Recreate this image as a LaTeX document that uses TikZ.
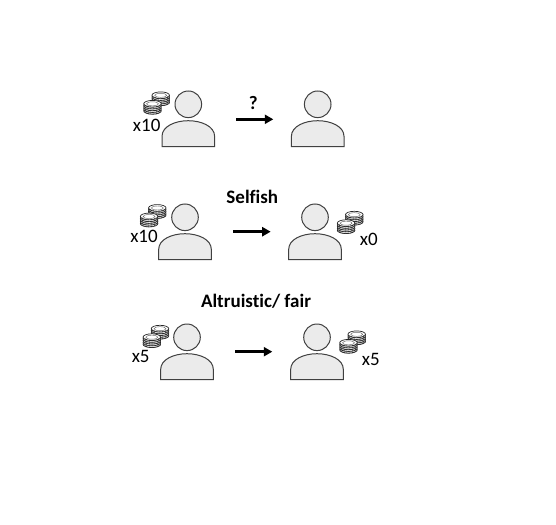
\documentclass[tikz,border=0pt]{standalone}
\usepackage{fontspec}
\setmainfont[RawFeature={-liga;-clig}]{Carlito}
\usetikzlibrary{arrows.meta}
\tikzset{
  x=1pt,y=-1pt,
  personshape/.style={draw=black!75,fill=black!8,line width=1pt},
  coinshape/.style={draw=black!85,fill=white,line width=0.7pt},
  flow/.style={-{Triangle[length=8.5pt,width=9pt]},line width=2.6pt,black},
  amount/.style={font=\fontsize{19}{21}\selectfont,inner sep=0pt,text=black},
  heading/.style={font=\fontsize{19}{21}\selectfont\bfseries,inner sep=0pt,text=black},
  person/.pic={
    \draw[personshape] (0,0) circle[radius=13.3];
    \draw[personshape] (-26.3,42.4) -- (-26.3,32)
      .. controls (-26.3,22) and (-13,16.4) .. (0,16.4)
      .. controls (13,16.4) and (26.3,22) .. (26.3,32) -- (26.3,42.4) -- cycle;
  },
  coinstack/.pic={
    \foreach \d in {7,5.25,3.5,1.75,0}{
      \draw[coinshape] (0,\d) ellipse[x radius=8.8,y radius=3.4];
      \draw[black!80,line width=0.9pt,dash pattern=on 0.8pt off 0.8pt]
        (-8.6,\d+0.8) .. controls (-4,\d+4.2) and (4,\d+4.2) .. (8.6,\d+0.8);
    }
    \draw[black!60,line width=0.45pt] (0,0) ellipse[x radius=6,y radius=2];
  },
  coinpile/.pic={
    \pic at (0,-3) {coinstack};
    \pic at (-8.2,5.5) {coinstack};
  }
}
\begin{document}
\begin{tikzpicture}
\useasboundingbox (0,0) rectangle (556,524);
\fill[white] (0,0) rectangle (556,524);
% row 1
\pic at (188.3,104.3) {person};
\pic at (317.7,104.3) {person};
\pic at (160.7,98.3) {coinpile};
\node[amount] (amtA) at (146.7,125) {x10};
\node[heading] (labA) at (253.3,102.7) {?};
\coordinate (a1) at (236.3,119.3);
\coordinate (a2) at (273.3,119.3);
\draw[flow] (a1) -- (a2);
% row 2
\pic at (185,217.3) {person};
\pic at (315,217.3) {person};
\pic at (157.3,211) {coinpile};
\pic at (354.3,217.7) {coinpile};
\node[amount] (amtB) at (144,236.7) {x10};
\node[amount] (amtC) at (368.7,239) {x0};
\node[heading] (labB) at (252.3,197.3) {Selfish};
\coordinate (b1) at (233.3,231.7);
\coordinate (b2) at (270.7,231.7);
\draw[flow] (b1) -- (b2);
% row 3
\pic at (187,337.3) {person};
\pic at (317,337.3) {person};
\pic at (160,331.7) {coinpile};
\pic at (356.7,337.3) {coinpile};
\node[amount] (amtD) at (140.7,356.7) {x5};
\node[amount] (amtE) at (370.7,359) {x5};
\node[heading] (labC) at (256,301) {Altruistic/ fair};
\coordinate (c1) at (235.3,351.7);
\coordinate (c2) at (272.3,351.7);
\draw[flow] (c1) -- (c2);
\end{tikzpicture}
\end{document}
